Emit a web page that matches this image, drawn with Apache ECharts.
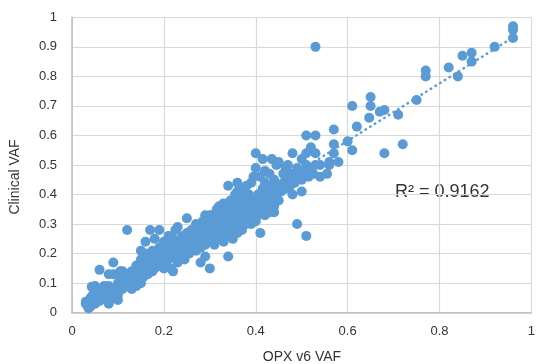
<!DOCTYPE html>
<html lang="en">
<head>
    <meta charset="UTF-8">
    <title>OPX v6 VAF vs Clinical VAF</title>
    <script src="https://cdn.jsdelivr.net/npm/echarts@6/dist/echarts.min.js"></script>
    <style>
        html, body { margin: 0; padding: 0; background: #fff; }
        #app { width: 538px; height: 364px; }
    </style>
</head>
<body>
    <div id="app"></div>
    <script>
        // [OPX v6 VAF, Clinical VAF] pairs
        const lowPoints = [
            [0.03, 0.03], [0.03, 0.037], [0.036, 0.015], [0.04, 0.02], [0.04, 0.05], [0.043, 0.088],
            [0.045, 0.06], [0.05, 0.03], [0.05, 0.07], [0.05, 0.09], [0.055, 0.05], [0.06, 0.04],
            [0.06, 0.08], [0.06, 0.145], [0.065, 0.06], [0.07, 0.09], [0.07, 0.05], [0.075, 0.07],
            [0.08, 0.037], [0.08, 0.03], [0.08, 0.09], [0.08, 0.13], [0.085, 0.06], [0.09, 0.05],
            [0.09, 0.13], [0.09, 0.17], [0.095, 0.08], [0.1, 0.043], [0.1, 0.1], [0.1, 0.06],
            [0.1, 0.13], [0.105, 0.14], [0.105, 0.12], [0.11, 0.08], [0.11, 0.11], [0.11, 0.14],
            [0.115, 0.09], [0.12, 0.1], [0.12, 0.13], [0.12, 0.28], [0.125, 0.12], [0.13, 0.08],
            [0.13, 0.11], [0.13, 0.14], [0.135, 0.12], [0.14, 0.09], [0.14, 0.13], [0.14, 0.16],
            [0.145, 0.11], [0.15, 0.1], [0.15, 0.14], [0.15, 0.18], [0.15, 0.21], [0.155, 0.12],
            [0.16, 0.15], [0.16, 0.17], [0.16, 0.2], [0.16, 0.24], [0.165, 0.13], [0.17, 0.16],
            [0.17, 0.19], [0.17, 0.28], [0.175, 0.14], [0.175, 0.21], [0.18, 0.15], [0.18, 0.18],
            [0.18, 0.25], [0.185, 0.2], [0.19, 0.16], [0.19, 0.22], [0.19, 0.28], [0.195, 0.19],
            [0.2, 0.15], [0.2, 0.21], [0.2, 0.24]
        ];
        const midPoints = [
            [0.205, 0.17], [0.205, 0.2], [0.21, 0.18], [0.21, 0.23], [0.21, 0.26], [0.215, 0.15],
            [0.215, 0.21], [0.22, 0.14], [0.22, 0.19], [0.22, 0.22], [0.22, 0.25], [0.225, 0.2],
            [0.225, 0.28], [0.23, 0.17], [0.23, 0.21], [0.23, 0.24], [0.23, 0.29], [0.235, 0.19],
            [0.235, 0.23], [0.24, 0.2], [0.24, 0.22], [0.24, 0.26], [0.245, 0.18], [0.245, 0.24],
            [0.25, 0.21], [0.25, 0.23], [0.25, 0.27], [0.25, 0.32], [0.255, 0.2], [0.255, 0.25],
            [0.26, 0.22], [0.26, 0.24], [0.26, 0.28], [0.265, 0.23], [0.265, 0.26], [0.27, 0.21],
            [0.27, 0.25], [0.27, 0.3], [0.275, 0.24], [0.275, 0.27], [0.28, 0.17], [0.28, 0.22],
            [0.28, 0.26], [0.28, 0.29], [0.285, 0.25], [0.285, 0.31], [0.29, 0.19], [0.29, 0.23],
            [0.29, 0.27], [0.29, 0.33], [0.295, 0.25], [0.295, 0.29], [0.3, 0.15], [0.3, 0.24],
            [0.3, 0.27], [0.3, 0.3], [0.3, 0.33], [0.32, 0.36],
            [0.305, 0.26], [0.305, 0.29], [0.305, 0.33], [0.31, 0.23], [0.31, 0.28], [0.31, 0.31],
            [0.315, 0.27], [0.315, 0.3], [0.315, 0.35], [0.32, 0.25], [0.32, 0.29], [0.32, 0.32],
            [0.325, 0.28], [0.325, 0.34], [0.33, 0.24], [0.33, 0.3], [0.33, 0.32], [0.33, 0.37],
            [0.335, 0.27], [0.335, 0.33], [0.34, 0.19], [0.34, 0.29], [0.34, 0.31], [0.34, 0.35],
            [0.34, 0.43], [0.345, 0.26], [0.345, 0.33], [0.345, 0.38], [0.35, 0.25], [0.35, 0.3],
            [0.35, 0.34], [0.35, 0.36], [0.355, 0.28], [0.355, 0.32], [0.355, 0.4], [0.36, 0.3],
            [0.36, 0.35], [0.36, 0.38], [0.36, 0.41], [0.36, 0.44], [0.36, 0.27], [0.365, 0.33],
            [0.365, 0.37], [0.37, 0.28], [0.37, 0.31], [0.37, 0.36], [0.37, 0.42], [0.375, 0.34],
            [0.375, 0.39], [0.38, 0.3], [0.38, 0.33], [0.38, 0.37], [0.38, 0.43], [0.385, 0.35],
            [0.385, 0.4], [0.39, 0.32], [0.39, 0.38], [0.39, 0.44], [0.39, 0.3], [0.395, 0.36],
            [0.395, 0.46], [0.4, 0.34], [0.4, 0.37], [0.4, 0.31], [0.4, 0.49], [0.4, 0.54]
        ];
        const highPoints = [
            [0.405, 0.33], [0.405, 0.4], [0.41, 0.27], [0.41, 0.36], [0.41, 0.38], [0.41, 0.46],
            [0.415, 0.42], [0.415, 0.52], [0.42, 0.35], [0.42, 0.39], [0.42, 0.44], [0.42, 0.48],
            [0.42, 0.33], [0.425, 0.37], [0.43, 0.34], [0.43, 0.4], [0.43, 0.43], [0.43, 0.47],
            [0.435, 0.38], [0.435, 0.52], [0.44, 0.36], [0.44, 0.42], [0.44, 0.45], [0.44, 0.34],
            [0.445, 0.4], [0.445, 0.5], [0.45, 0.38], [0.45, 0.43], [0.45, 0.51], [0.455, 0.41],
            [0.46, 0.44], [0.46, 0.47], [0.465, 0.42], [0.465, 0.49], [0.47, 0.45], [0.47, 0.5],
            [0.475, 0.43], [0.475, 0.47], [0.48, 0.4], [0.48, 0.47], [0.48, 0.54], [0.485, 0.44],
            [0.49, 0.3], [0.49, 0.49], [0.495, 0.46], [0.5, 0.41], [0.5, 0.45], [0.5, 0.52],
            [0.505, 0.48], [0.51, 0.26], [0.51, 0.5], [0.51, 0.54], [0.51, 0.6], [0.515, 0.46],
            [0.52, 0.49], [0.52, 0.56], [0.525, 0.47], [0.53, 0.5], [0.53, 0.54], [0.53, 0.6],
            [0.53, 0.9], [0.54, 0.46], [0.54, 0.5], [0.555, 0.47], [0.56, 0.5], [0.56, 0.51],
            [0.57, 0.54], [0.57, 0.57], [0.57, 0.62], [0.58, 0.51], [0.6, 0.58],
            [0.61, 0.55], [0.61, 0.7], [0.62, 0.63], [0.647, 0.66], [0.65, 0.7], [0.65, 0.73],
            [0.67, 0.68], [0.68, 0.686], [0.68, 0.54], [0.71, 0.67], [0.72, 0.57], [0.75, 0.72],
            [0.77, 0.8], [0.77, 0.82], [0.82, 0.83], [0.84, 0.8], [0.85, 0.87], [0.87, 0.85],
            [0.87, 0.88], [0.92, 0.9], [0.96, 0.93], [0.96, 0.957], [0.96, 0.97]
        ];
        const points = lowPoints.concat(midPoints, highPoints);

        const xRange = { min: 0, max: 1, interval: 0.2 };
        const yRange = { min: 0, max: 1, interval: 0.1 };
        const rSquaredText = 'R² = 0.9162';
        const xTitle = 'OPX v6 VAF';
        const yTitle = 'Clinical VAF';

        // linear trendline (least squares), drawn over the data's x range
        let n = points.length, sx = 0, sy = 0, sxx = 0, sxy = 0;
        for (const [x, y] of points) {
            sx += x; sy += y; sxx += x * x; sxy += x * y;
        }
        const slope = (n * sxy - sx * sy) / (n * sxx - sx * sx);
        const intercept = (sy - slope * sx) / n;
        const xs = points.map(p => p[0]);
        const x0 = Math.min(...xs), x1 = Math.max(...xs);
        const trend = [[x0, slope * x0 + intercept], [x1, slope * x1 + intercept]];

        const blue = '#5b9bd5';
        const textColor = '#333333';
        const labelFont = { color: textColor, fontSize: 13, fontFamily: 'Liberation Sans' };

        const myChart = echarts.init(document.getElementById('app'));
        myChart.setOption({
            animation: false,
            grid: { left: 72, right: 0.5, top: 17.3, bottom: 51.3 },
            xAxis: {
                type: 'value',
                min: xRange.min, max: xRange.max, interval: xRange.interval,
                axisLine: { show: true, lineStyle: { color: '#bfbfbf', width: 1.5 } },
                axisTick: { show: false },
                axisLabel: Object.assign({ margin: 12 }, labelFont),
                splitLine: { show: true, lineStyle: { color: '#d9d9d9', width: 1.2 } }
            },
            yAxis: {
                type: 'value',
                min: yRange.min, max: yRange.max, interval: yRange.interval,
                axisLine: { show: true, lineStyle: { color: '#bfbfbf', width: 1.5 } },
                axisTick: { show: false },
                axisLabel: Object.assign({ margin: 15 }, labelFont),
                splitLine: { show: true, lineStyle: { color: '#d9d9d9', width: 1.2 } }
            },
            graphic: [
                {
                    type: 'text', x: 395, y: 192,
                    style: { text: rSquaredText, fill: textColor, font: '18px "Liberation Sans"', align: 'left', verticalAlign: 'middle' }
                },
                {
                    type: 'text', x: 302, y: 357,
                    style: { text: xTitle, fill: textColor, font: '14px "Liberation Sans"', align: 'center', verticalAlign: 'middle' }
                },
                {
                    type: 'text', x: 15, y: 177, rotation: Math.PI / 2,
                    style: { text: yTitle, fill: textColor, font: '14px "Liberation Sans"', align: 'center', verticalAlign: 'middle' }
                }
            ],
            series: [
                {
                    name: 'VAF',
                    type: 'scatter',
                    data: points,
                    symbolSize: 10,
                    itemStyle: { color: blue, opacity: 1 }
                },
                {
                    name: 'Linear trend',
                    type: 'line',
                    data: trend,
                    symbol: 'none',
                    z: 3,
                    lineStyle: { color: blue, width: 2.5, type: [0.5, 5], cap: 'round' }
                }
            ]
        });
    </script>
</body>
</html>
